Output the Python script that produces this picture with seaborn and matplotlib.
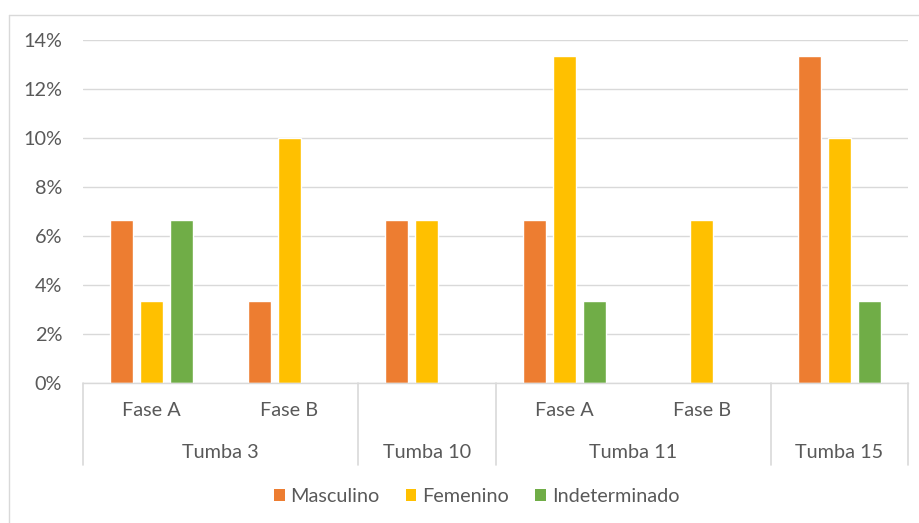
import matplotlib
matplotlib.use("Agg")
import matplotlib.pyplot as plt
import matplotlib.transforms as mtransforms
import seaborn as sns
import pandas as pd
from matplotlib.lines import Line2D
from matplotlib.patches import Patch
from matplotlib.ticker import PercentFormatter

# ---- data ----
categories = ["Tumba 3 Fase A", "Tumba 3 Fase B", "Tumba 10",
              "Tumba 11 Fase A", "Tumba 11 Fase B", "Tumba 15"]
fase_labels = ["Fase A", "Fase B", "", "Fase A", "Fase B", ""]
tumba_labels = ["Tumba 3", "Tumba 10", "Tumba 11", "Tumba 15"]
tumba_spans = [2, 1, 2, 1]
series = ["Masculino", "Femenino", "Indeterminado"]
masculino = [6.67, 3.33, 6.67, 6.67, 0.0, 13.33]
femenino = [3.33, 10.0, 6.67, 13.33, 6.67, 10.0]
indeterminado = [6.67, 0.0, 0.0, 3.33, 0.0, 3.33]
colors = ["#ED7D31", "#FFC000", "#70AD47"]

rows = []
for s, vals in zip(series, [masculino, femenino, indeterminado]):
    for c, v in zip(categories, vals):
        rows.append({"cat": c, "serie": s, "val": v})
df = pd.DataFrame(rows)

sns.set_theme(style="white")
plt.rcParams["font.family"] = ["Lato", "DejaVu Sans"]
txt = "#595959"
fs = 14.3

fig = plt.figure(figsize=(9.19, 5.23), dpi=100)
ax = fig.add_axes([83 / 919, 1 - 383 / 523, (908 - 83) / 919, (383 - 40) / 523])

sns.barplot(data=df, x="cat", y="val", hue="serie", order=categories,
            hue_order=series, palette=colors, width=0.655, gap=0.23,
            saturation=1, ax=ax, legend=False)

ax.set_xlim(-0.5, len(categories) - 0.5)
ax.set_ylim(0, 14)
ax.set_yticks(range(0, 15, 2))
ax.yaxis.set_major_formatter(PercentFormatter(100, decimals=0))
ax.grid(axis="y", color="#D9D9D9", linewidth=1)
ax.set_axisbelow(True)
for sp in ["top", "right", "left"]:
    ax.spines[sp].set_visible(False)
ax.spines["bottom"].set_color("#D9D9D9")
ax.spines["bottom"].set_linewidth(1)
ax.tick_params(axis="y", length=0, labelsize=fs, labelcolor=txt, pad=15)
ax.set_xticks([])
ax.set_xlabel("")
ax.set_ylabel("")

# multi-level category axis
trans = mtransforms.blended_transform_factory(ax.transData, fig.transFigure)
y_fase = 1 - 410 / 523
y_tumba = 1 - 452 / 523
y_bottom = 1 - 465 / 523
y_axis = 1 - 383 / 523
for i, lab in enumerate(fase_labels):
    if lab:
        ax.text(i, y_fase, lab, transform=trans, ha="center", va="center",
                fontsize=fs, color=txt)
start = 0
bounds = [-0.5]
for lab, span in zip(tumba_labels, tumba_spans):
    center = start + (span - 1) / 2
    ax.text(center, y_tumba, lab, transform=trans, ha="center", va="center",
            fontsize=fs, color=txt)
    start += span
    bounds.append(start - 0.5)
for b in bounds:
    ax.add_line(Line2D([b, b], [y_bottom, y_axis], transform=trans,
                       color="#D9D9D9", linewidth=1.2, clip_on=False))

# legend
handles = [Patch(facecolor=c, edgecolor="none") for c in colors]
fig.legend(handles, series, loc="center", bbox_to_anchor=(476.5 / 919, 1 - 497 / 523),
           ncol=3, frameon=False, fontsize=fs, labelcolor=txt,
           handlelength=0.55, handleheight=0.55, handletextpad=0.3,
           columnspacing=1.3)

# chart border
fig.add_artist(Line2D([9 / 919, 9 / 919], [0, 1 - 15 / 523],
                      transform=fig.transFigure, color="#D9D9D9", linewidth=1))
fig.add_artist(Line2D([9 / 919, 1], [1 - 15 / 523, 1 - 15 / 523],
                      transform=fig.transFigure, color="#D9D9D9", linewidth=1))

fig.savefig("out.png", dpi=100, facecolor="white")
